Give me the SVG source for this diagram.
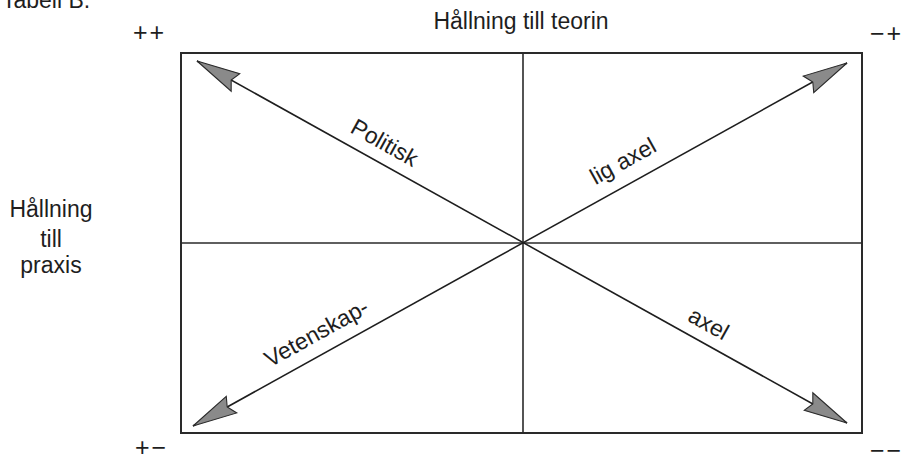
<svg xmlns="http://www.w3.org/2000/svg" width="902" height="454" viewBox="0 0 902 454">
<defs>
<style>
text{font-family:"Liberation Sans",Arial,sans-serif;fill:#1e1e1e;}
.lbl{font-size:23px;}
.sg{font-size:25px;letter-spacing:2px;}
.axl{font-size:23px;text-anchor:middle;}
.frame{fill:none;stroke:#2a2a2a;stroke-width:2;}
.grid{stroke:#2a2a2a;stroke-width:1.6;}
.diag{stroke:#1e1e1e;stroke-width:1.6;marker-start:url(#ah);marker-end:url(#ah);}
</style>
<marker id="ah" markerUnits="userSpaceOnUse" orient="auto-start-reverse" markerWidth="50" markerHeight="30" refX="0" refY="0" viewBox="-44 -12 46 24" overflow="visible">
<path d="M0,0 L-41,-9 L-36,0 L-40,9 Z" fill="#8a8a8a" stroke="#2a2a2a" stroke-width="1"/>
</marker>
</defs>
<g id="title">
<text class="lbl" x="2" y="8">Tabell B.</text>
<text class="lbl" x="521" y="29" text-anchor="middle" font-size="24">Hållning till teorin</text>
</g>
<g id="corners">
<text class="sg" x="133" y="41">++</text>
<text class="sg" x="870" y="42">−+</text>
<text class="sg" x="135" y="456">+−</text>
<text class="sg" x="870" y="459">−−</text>
</g>
<g id="praxis">
<text class="lbl" x="51" y="217" text-anchor="middle">Hållning</text>
<text class="lbl" x="51" y="247" text-anchor="middle">till</text>
<text class="lbl" x="51" y="273" text-anchor="middle">praxis</text>
</g>
<g id="grid">
<rect class="frame" x="181" y="53" width="681" height="380"/>
<line class="grid" x1="523" y1="53" x2="523" y2="433"/>
<line class="grid" x1="181" y1="243" x2="862" y2="243"/>
</g>
<g id="connectors">
<line class="diag" x1="197" y1="61" x2="847" y2="423"/>
<line class="diag" x1="193" y1="426" x2="847" y2="63"/>
</g>
<g id="axis-labels">
<text class="axl" transform="translate(375,160) rotate(29.1)" y="-12">Politisk</text>
<text class="axl" transform="translate(634,181) rotate(-29)" y="-15">lig axel</text>
<text class="axl" transform="translate(327,352) rotate(-29)" y="-14">Vetenskap-</text>
<text class="axl" transform="translate(699,341) rotate(29.1)" y="-12">axel</text>
</g>
</svg>
